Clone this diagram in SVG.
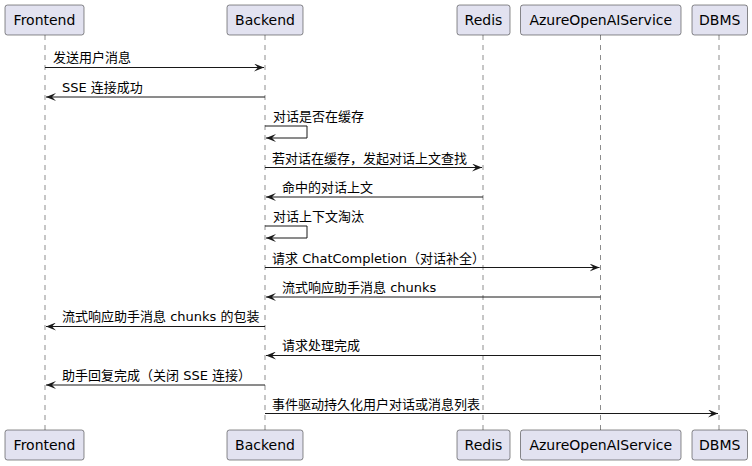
<svg xmlns="http://www.w3.org/2000/svg" width="752" height="466" viewBox="0 0 752 466">
<defs>
<style>
.box{fill:#E2E2F0;stroke:#181818;stroke-width:0.5;}
.pt{font-family:"DejaVu Sans","Noto Sans CJK SC",sans-serif;font-size:14px;fill:#000;text-anchor:middle;}
.life{stroke:#181818;stroke-width:0.5;stroke-dasharray:5,5;fill:none;}
.msg{stroke:#181818;stroke-width:1;fill:none;}
.lbl{font-family:"DejaVu Sans","Noto Sans CJK SC",sans-serif;font-size:13px;fill:#000;}
</style>
<marker id="ah" viewBox="0 0 10 8" refX="10" refY="4" markerWidth="10" markerHeight="8" markerUnits="userSpaceOnUse" orient="auto">
<path d="M0,0 L10,4 L0,8 L4,4 Z" fill="#181818"/>
</marker>
</defs>
<rect width="752" height="466" fill="#FFFFFF"/>
<g id="lifelines">
<line class="life" x1="45" y1="35" x2="45" y2="430"/>
<line class="life" x1="265" y1="35" x2="265" y2="430"/>
<line class="life" x1="483" y1="35" x2="483" y2="430"/>
<line class="life" x1="600.5" y1="35" x2="600.5" y2="430"/>
<line class="life" x1="719" y1="35" x2="719" y2="430"/>
</g>
<g id="Frontend">
<rect class="box" x="5" y="5" width="79" height="30" rx="2.5"/>
<text class="pt" x="44.5" y="25">Frontend</text>
<rect class="box" x="5" y="430" width="79" height="30" rx="2.5"/>
<text class="pt" x="44.5" y="450">Frontend</text>
</g>
<g id="Backend">
<rect class="box" x="227" y="5" width="76" height="30" rx="2.5"/>
<text class="pt" x="265" y="25">Backend</text>
<rect class="box" x="227" y="430" width="76" height="30" rx="2.5"/>
<text class="pt" x="265" y="450">Backend</text>
</g>
<g id="Redis">
<rect class="box" x="457" y="5" width="53" height="30" rx="2.5"/>
<text class="pt" x="483.5" y="25">Redis</text>
<rect class="box" x="457" y="430" width="53" height="30" rx="2.5"/>
<text class="pt" x="483.5" y="450">Redis</text>
</g>
<g id="AzureOpenAIService">
<rect class="box" x="520.5" y="5" width="160.5" height="30" rx="2.5"/>
<text class="pt" x="600.75" y="25">AzureOpenAIService</text>
<rect class="box" x="520.5" y="430" width="160.5" height="30" rx="2.5"/>
<text class="pt" x="600.75" y="450">AzureOpenAIService</text>
</g>
<g id="DBMS">
<rect class="box" x="692" y="5" width="55.5" height="30" rx="2.5"/>
<text class="pt" x="719.75" y="25">DBMS</text>
<rect class="box" x="692" y="430" width="55.5" height="30" rx="2.5"/>
<text class="pt" x="719.75" y="450">DBMS</text>
</g>
<g id="connectors">
<line class="msg" x1="45" y1="67.5" x2="264" y2="67.5" marker-end="url(#ah)"/>
<text class="lbl" x="53" y="62">发送用户消息</text>
<line class="msg" x1="265" y1="97" x2="46" y2="97" marker-end="url(#ah)"/>
<text class="lbl" x="62" y="92">SSE 连接成功</text>
<path class="msg" d="M265,126 L307,126 L307,138 L266,138" marker-end="url(#ah)"/>
<text class="lbl" x="273" y="121">对话是否在缓存</text>
<line class="msg" x1="265" y1="167.5" x2="482" y2="167.5" marker-end="url(#ah)"/>
<text class="lbl" x="272" y="163">若对话在缓存，发起对话上文查找</text>
<line class="msg" x1="483" y1="197" x2="266" y2="197" marker-end="url(#ah)"/>
<text class="lbl" x="282" y="192">命中的对话上文</text>
<path class="msg" d="M265,226 L307,226 L307,238 L266,238" marker-end="url(#ah)"/>
<text class="lbl" x="273" y="221">对话上下文淘汰</text>
<line class="msg" x1="265" y1="267.5" x2="599.5" y2="267.5" marker-end="url(#ah)"/>
<text class="lbl" x="272" y="263">请求 ChatCompletion（对话补全）</text>
<line class="msg" x1="600.5" y1="297" x2="266" y2="297" marker-end="url(#ah)"/>
<text class="lbl" x="282" y="292">流式响应助手消息 chunks</text>
<line class="msg" x1="265" y1="326.5" x2="46" y2="326.5" marker-end="url(#ah)"/>
<text class="lbl" x="62" y="321">流式响应助手消息 chunks 的包装</text>
<line class="msg" x1="600.5" y1="355.5" x2="266" y2="355.5" marker-end="url(#ah)"/>
<text class="lbl" x="282" y="350">请求处理完成</text>
<line class="msg" x1="265" y1="385" x2="46" y2="385" marker-end="url(#ah)"/>
<text class="lbl" x="62" y="380">助手回复完成（关闭 SSE 连接）</text>
<line class="msg" x1="265" y1="413.5" x2="718" y2="413.5" marker-end="url(#ah)"/>
<text class="lbl" x="272" y="409">事件驱动持久化用户对话或消息列表</text>
</g>
</svg>
